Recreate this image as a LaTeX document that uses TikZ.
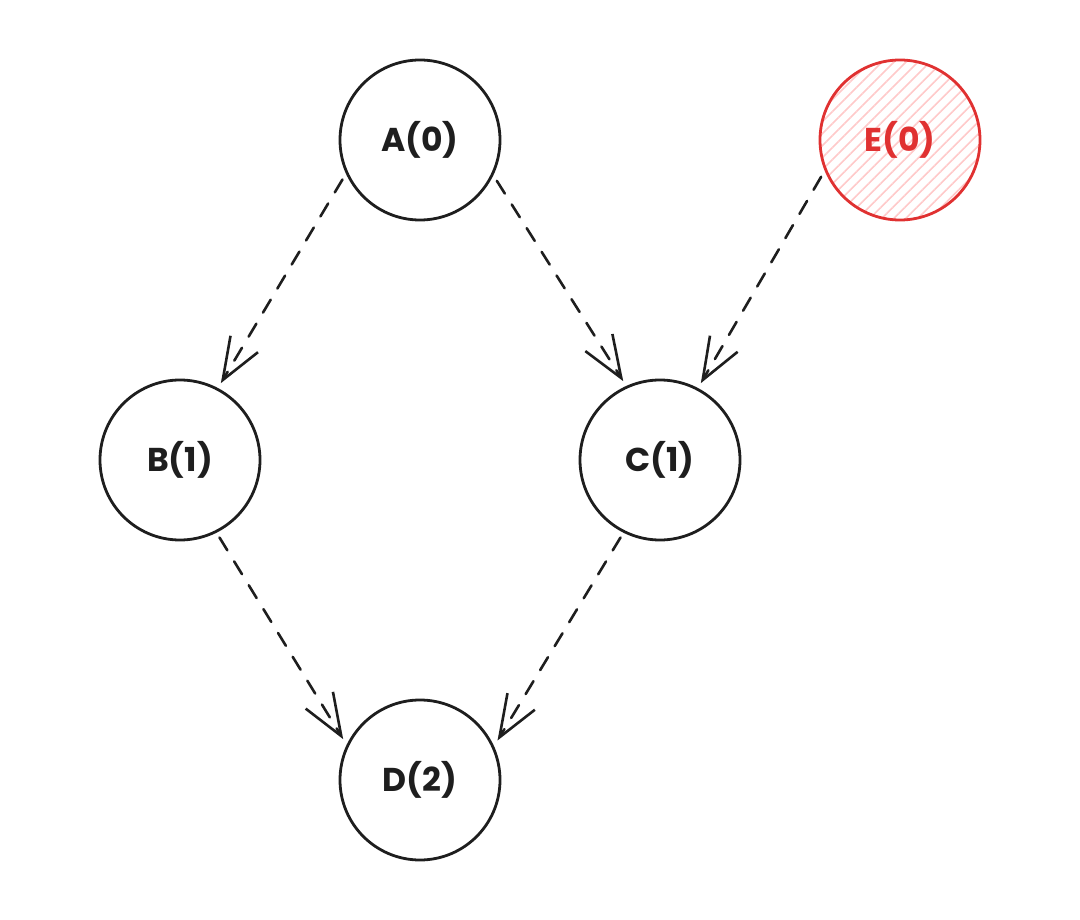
\documentclass[tikz,border=0pt]{standalone}
\usepackage{fontspec}
\setmainfont{Poppins}
\usetikzlibrary{arrows.meta,patterns.meta}
\definecolor{ink}{HTML}{1E1E1E}
\definecolor{exred}{HTML}{E03131}
\definecolor{hatch}{HTML}{FFC9C9}
\begin{document}
\begin{tikzpicture}[x=1pt,y=-1pt,
  state/.style={circle, draw=ink, line width=2.8pt, minimum size=160pt, inner sep=0pt, outer sep=7pt,
    font=\fontsize{33}{38}\selectfont\bfseries, text=ink},
  redstate/.style={state, draw=exred, text=exred,
    pattern={Lines[angle=45,distance=8.5pt,line width=1.6pt]}, pattern color=hatch},
  dep/.style={draw=ink, line width=2.6pt, dash pattern=on 15pt off 13pt, line cap=round,
    -{Straight Barb[length=42pt,width=32pt,line width=2.6pt]}}]
\useasboundingbox (0,0) rectangle (1080,920);
\node[state] (A) at (420,140) {A(0)};
\node[redstate] (E) at (900,140) {E(0)};
\node[state] (B) at (180,460) {B(1)};
\node[state] (C) at (660,460) {C(1)};
\node[state] (D) at (420,780) {D(2)};
\draw[dep] (A.207.7) -- (B.62.3);
\draw[dep] (A.332.3) -- (C.115.4);
\draw[dep] (E.205.4) -- (C.62.3);
\draw[dep] (B.297.7) -- (D.152.3);
\draw[dep] (C.243.4) -- (D.27.7);
\end{tikzpicture}
\end{document}
